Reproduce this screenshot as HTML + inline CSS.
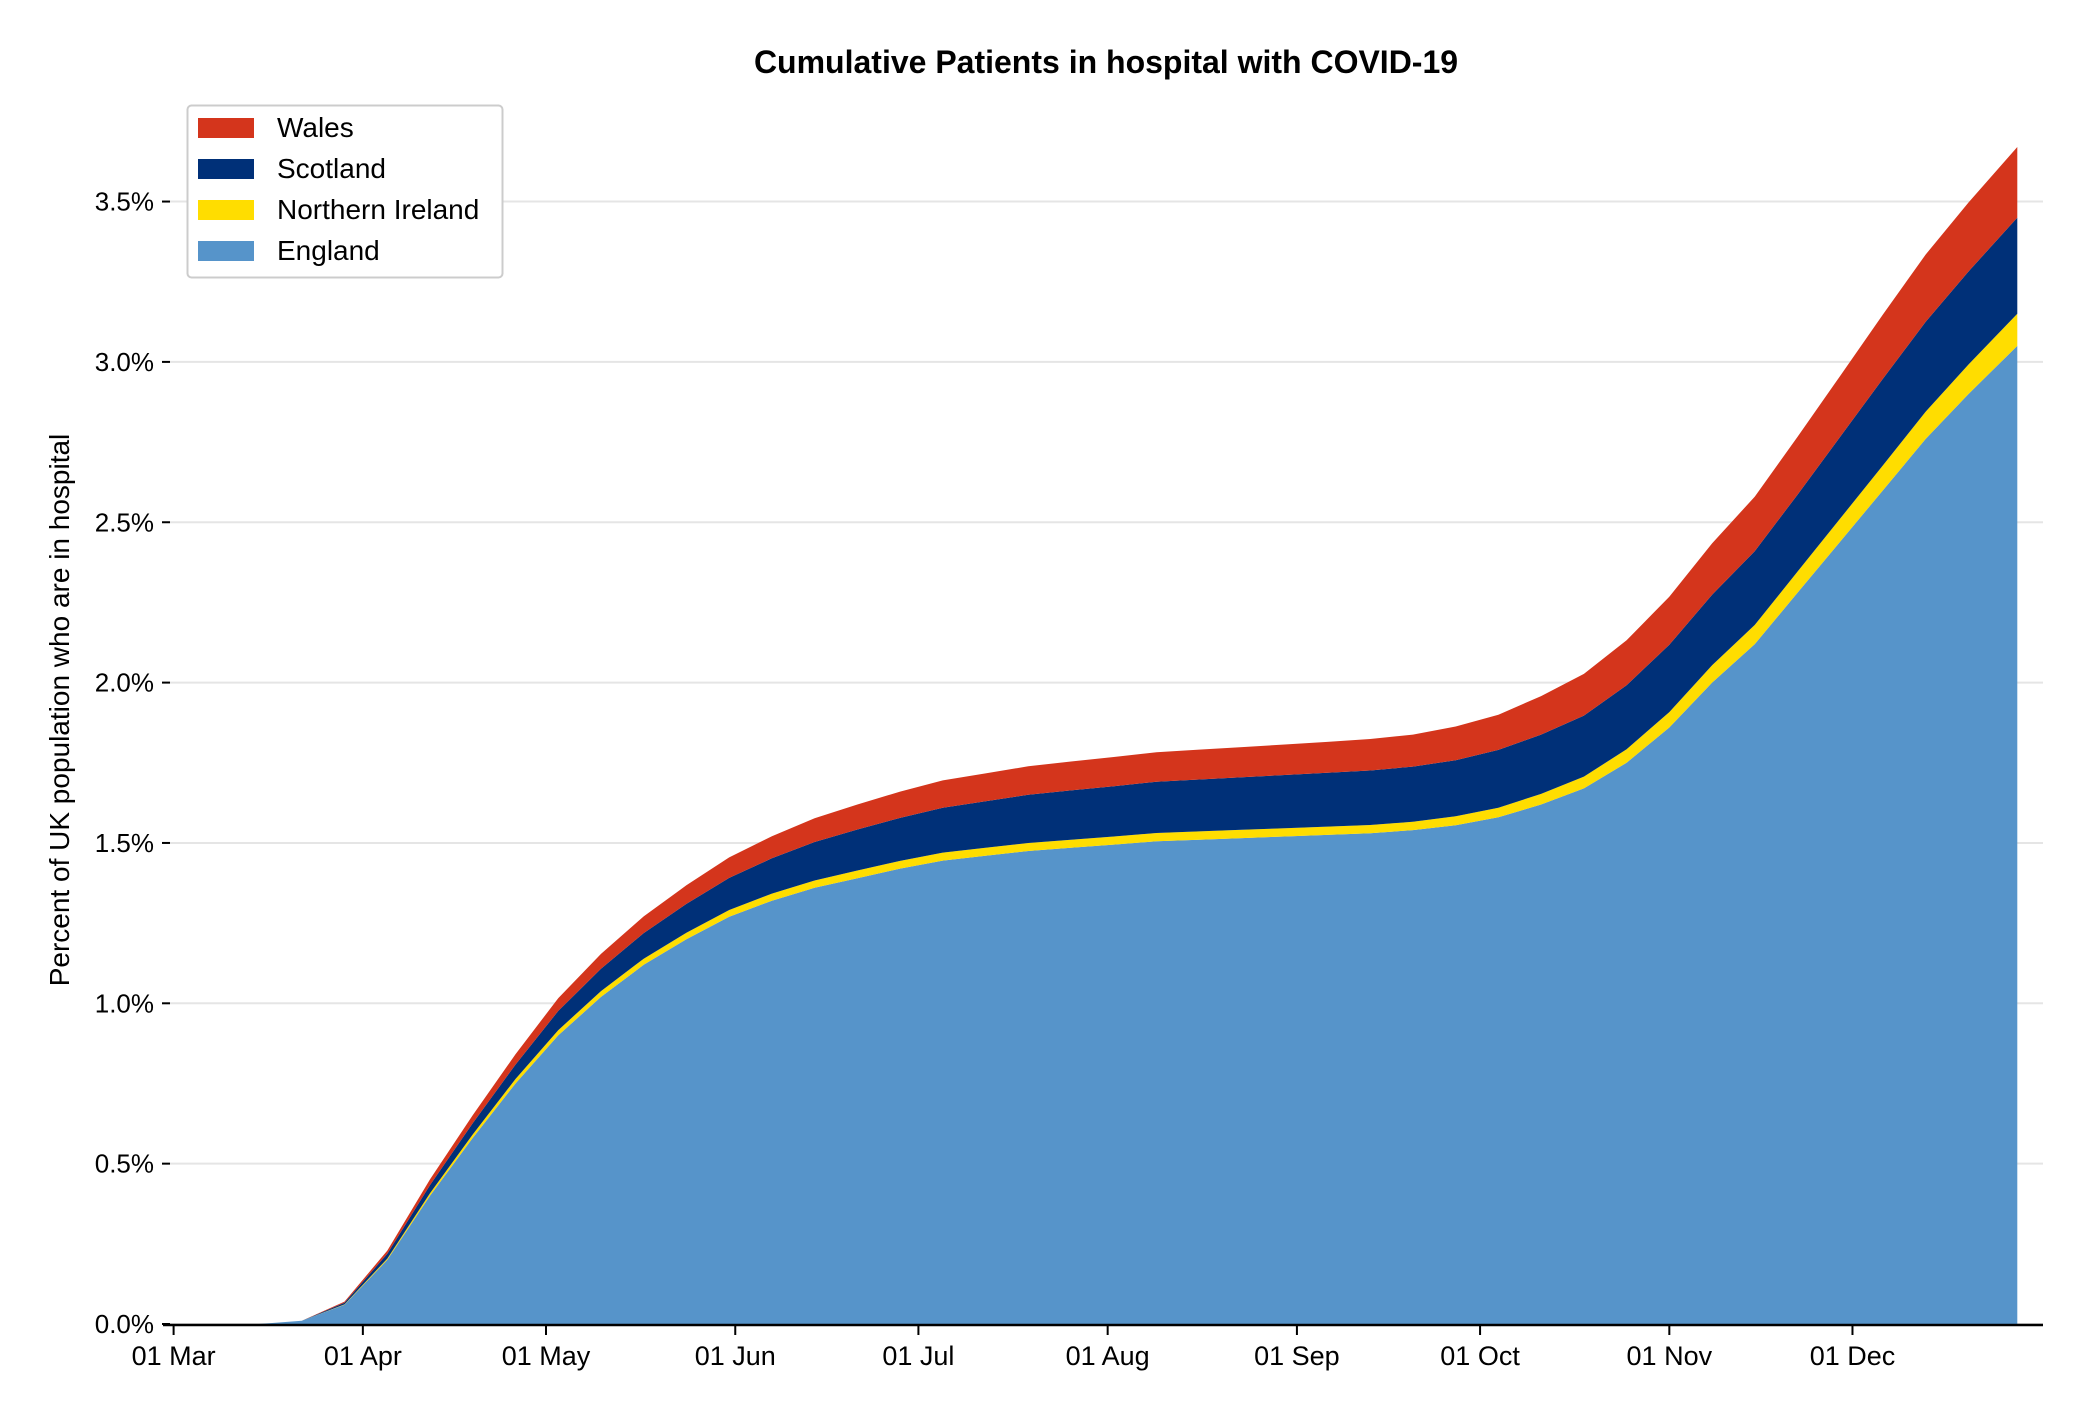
<!DOCTYPE html>
<html><head><meta charset="utf-8"><style>
html,body{margin:0;padding:0;background:#fff;}
svg{display:block;font-family:"Liberation Sans",sans-serif;}
</style></head><body>
<svg id="chart" width="2083" height="1420" viewBox="0 0 2083 1420">
<text x="1106" y="73" text-anchor="middle" font-size="32" font-weight="bold">Cumulative Patients in hospital with COVID-19</text>
<text transform="translate(69,710) rotate(-90)" text-anchor="middle" font-size="28">Percent of UK population who are in hospital</text>
<g id="grid"></g><g id="areas"></g><g id="axes"></g>
<g>
<rect x="187.5" y="105.5" width="315" height="172" rx="4" fill="#fff" stroke="#cccccc" stroke-width="2"/>
<g><rect x="198" y="118" width="56" height="20" fill="#d4351c"/><text x="277" y="137" font-size="28">Wales</text></g>
<g><rect x="198" y="159" width="56" height="20" fill="#003078"/><text x="277" y="178" font-size="28">Scotland</text></g>
<g><rect x="198" y="200" width="56" height="20" fill="#ffdd00"/><text x="277" y="219" font-size="28">Northern Ireland</text></g>
<g><rect x="198" y="241" width="56" height="20" fill="#5694ca"/><text x="277" y="260" font-size="28">England</text></g>
</g>
</svg>
<script>
const days=[0,7,14,21,28,35,42,49,56,63,70,77,84,91,98,105,112,119,126,133,140,147,154,161,168,175,182,189,196,203,210,217,224,231,238,245,252,259,266,273,280,287,294,302];
const england=[0,0,0,0.01,0.06,0.2,0.4,0.58,0.75,0.9,1.02,1.12,1.2,1.27,1.32,1.36,1.39,1.42,1.445,1.46,1.475,1.485,1.495,1.505,1.51,1.515,1.52,1.525,1.53,1.54,1.555,1.58,1.62,1.67,1.75,1.86,2.0,2.12,2.28,2.44,2.6,2.76,2.9,3.05];
const northernIreland=[0,0,0,0,0.001,0.004,0.008,0.011,0.014,0.016,0.018,0.019,0.02,0.021,0.022,0.023,0.024,0.024,0.025,0.025,0.025,0.025,0.025,0.026,0.026,0.026,0.026,0.026,0.026,0.026,0.028,0.03,0.033,0.037,0.042,0.048,0.054,0.06,0.066,0.072,0.078,0.085,0.092,0.1];
const scotland=[0,0,0,0,0.005,0.015,0.025,0.035,0.045,0.06,0.07,0.08,0.09,0.1,0.11,0.12,0.128,0.134,0.14,0.145,0.15,0.154,0.157,0.16,0.162,0.164,0.166,0.168,0.17,0.172,0.175,0.18,0.185,0.19,0.2,0.21,0.22,0.23,0.24,0.255,0.27,0.28,0.29,0.3];
const wales=[0,0,0,0,0.004,0.01,0.018,0.025,0.032,0.04,0.046,0.052,0.058,0.064,0.069,0.074,0.078,0.082,0.085,0.087,0.089,0.09,0.091,0.092,0.093,0.094,0.095,0.096,0.098,0.1,0.105,0.11,0.12,0.13,0.14,0.15,0.16,0.17,0.18,0.19,0.2,0.21,0.215,0.22];
const yTicks=[0,0.5,1.0,1.5,2.0,2.5,3.0,3.5];
const xTickDays=[0,31,61,92,122,153,184,214,245,275];
const xTickLabels=["01 Mar","01 Apr","01 May","01 Jun","01 Jul","01 Aug","01 Sep","01 Oct","01 Nov","01 Dec"];

const NS="http://www.w3.org/2000/svg";
function xs(d){return 173.6+6.105*d;}
function ys(p){return 1324-p*320.7;}
const grid=document.getElementById('grid'),areas=document.getElementById('areas'),axes=document.getElementById('axes');
yTicks.forEach(t=>{
  const l=document.createElementNS(NS,'line');
  l.setAttribute('x1',170);l.setAttribute('x2',2043);l.setAttribute('y1',ys(t));l.setAttribute('y2',ys(t));
  l.setAttribute('stroke','#e5e5e5');l.setAttribute('stroke-width','2');
  
  
  grid.appendChild(l);
  const tk=document.createElementNS(NS,'line');
  tk.setAttribute('x1',162);tk.setAttribute('x2',170);tk.setAttribute('y1',ys(t));tk.setAttribute('y2',ys(t));
  tk.setAttribute('stroke','#000');tk.setAttribute('stroke-width','2');
  
  
  axes.appendChild(tk);
  const tx=document.createElementNS(NS,'text');
  tx.setAttribute('x',154);tx.setAttribute('y',ys(t)+9);tx.setAttribute('text-anchor','end');tx.setAttribute('font-size','26');
  tx.textContent=t.toFixed(1)+'%';
  
  
  axes.appendChild(tx);
});
const series=[["england",england,"#5694ca"],["northern-ireland",northernIreland,"#ffdd00"],["scotland",scotland,"#003078"],["wales",wales,"#d4351c"]];
let base=days.map(()=>0);
series.forEach(s=>{
  const top=base.map((b,i)=>b+s[1][i]);
  let pts=days.map((d,i)=>xs(d).toFixed(1)+','+ys(top[i]).toFixed(1));
  for(let i=days.length-1;i>=0;i--)pts.push(xs(days[i]).toFixed(1)+','+ys(base[i]).toFixed(1));
  const p=document.createElementNS(NS,'polygon');
  p.setAttribute('points',pts.join(' '));p.setAttribute('fill',s[2]);
  
  
  areas.appendChild(p);
  base=top;
});
const sp=document.createElementNS(NS,'line');
sp.setAttribute('x1',163);sp.setAttribute('x2',2043);sp.setAttribute('y1',1325);sp.setAttribute('y2',1325);
sp.setAttribute('stroke','#000');sp.setAttribute('stroke-width','2.5');


axes.appendChild(sp);
xTickDays.forEach((d,i)=>{
  const tk=document.createElementNS(NS,'line');
  tk.setAttribute('x1',xs(d));tk.setAttribute('x2',xs(d));tk.setAttribute('y1',1325);tk.setAttribute('y2',1335);
  tk.setAttribute('stroke','#000');tk.setAttribute('stroke-width','2');
  
  
  axes.appendChild(tk);
  const tx=document.createElementNS(NS,'text');
  tx.setAttribute('x',xs(d));tx.setAttribute('y',1365);tx.setAttribute('text-anchor','middle');tx.setAttribute('font-size','27');
  tx.textContent=xTickLabels[i];
  
  
  axes.appendChild(tx);
});
</script>
</body></html>
